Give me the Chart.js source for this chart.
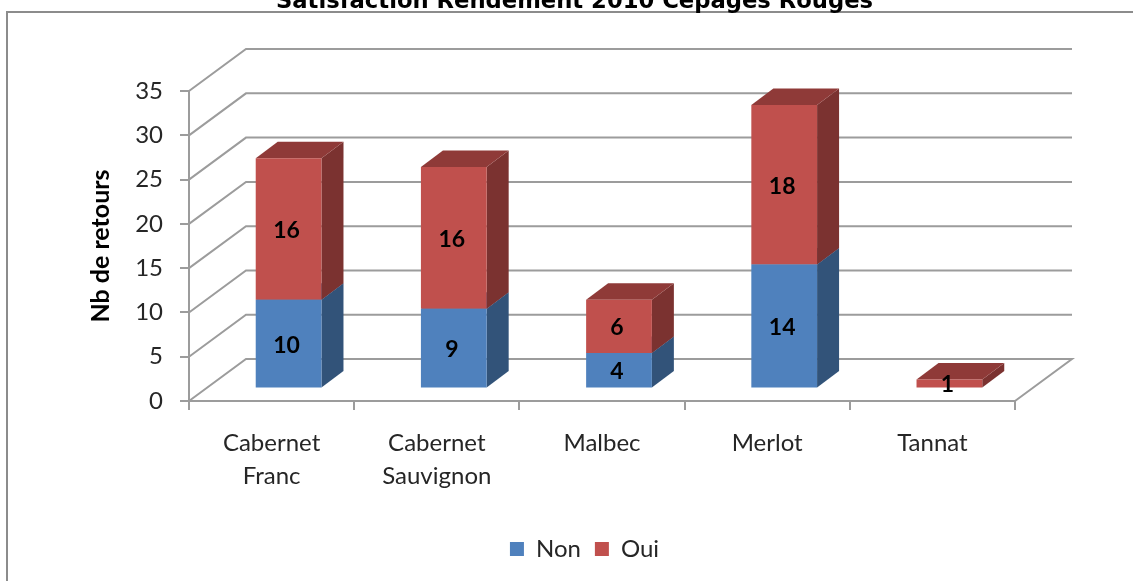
<!DOCTYPE html>
<html>
<head>
<meta charset="utf-8">
<title>Satisfaction Rendement 2010</title>
<script src="https://cdn.jsdelivr.net/npm/chart.js@4/dist/chart.umd.min.js"></script>
<style>
    html, body { margin: 0; padding: 0; background: #fff; overflow: hidden; }
    canvas { display: block; filter: blur(0.5px); }
</style>
</head>
<body>
<canvas id="chart" width="1133" height="581"></canvas>
<script>
const categories = [['Cabernet', 'Franc'], ['Cabernet', 'Sauvignon'], 'Malbec', 'Merlot', 'Tannat'];
const nonValues = [10, 9, 4, 14, 0];
const ouiValues = [16, 16, 6, 18, 1];

const FONT = 'Lato, "Open Sans", sans-serif';
const GRID_COLOR = '#9c9c9c';

// depth of the back wall, of the bars and offset of the bars from the front plane
const WALL_DX = 57, WALL_DY = -42;
const BAR_DX = 17, BAR_DY = -12.6;
const FACE_DX = 22, FACE_DY = -16.5;

const faceColors = [
    { side: '#325379', top: '#3b6190' },
    { side: '#7b3230', top: '#8f3a38' }
];

function polygon(ctx, color, points) {
    ctx.fillStyle = color;
    ctx.beginPath();
    points.forEach(([x, y], i) => i ? ctx.lineTo(x, y) : ctx.moveTo(x, y));
    ctx.closePath();
    ctx.fill();
}

const fakeThreeD = {
    id: 'fakeThreeD',
    beforeDraw(chart) {
        // frame, open on the right and the bottom
        const ctx = chart.ctx;
        ctx.save();
        ctx.strokeStyle = '#8c8c8c';
        ctx.lineWidth = 2;
        ctx.beginPath();
        ctx.moveTo(7, 581);
        ctx.lineTo(7, 12);
        ctx.lineTo(1133, 12);
        ctx.stroke();
        ctx.restore();
    },
    afterLayout(chart) {
        chart.titleBlock.left += 67;
        chart.titleBlock.right += 67;
        chart.legend.left += 77;
        chart.legend.right += 77;
        chart.legend.top = 547 - chart.legend.height / 2;
        chart.legend.bottom = chart.legend.top + chart.legend.height;
    },
    beforeDatasetsDraw(chart) {
        const ctx = chart.ctx;
        const { left, right } = chart.chartArea;
        const y = chart.scales.y;
        ctx.save();
        ctx.strokeStyle = GRID_COLOR;
        ctx.lineWidth = 2;
        y.ticks.forEach(tick => {
            const py = y.getPixelForValue(tick.value);
            ctx.beginPath();
            ctx.moveTo(left, py);
            ctx.lineTo(left + WALL_DX, py + WALL_DY);
            ctx.lineTo(right + WALL_DX, py + WALL_DY);
            if (tick.value === 0) {
                ctx.lineTo(right, py);
            }
            ctx.stroke();
        });
        // everything in the datasets sits a bit behind the front plane
        ctx.translate(BAR_DX, BAR_DY);
        chart.data.datasets.forEach((ds, d) => {
            chart.getDatasetMeta(d).data.forEach((bar, i) => {
                if (!ds.data[i]) {
                    return;
                }
                const p = bar.getProps(['x', 'y', 'base', 'width'], true);
                const x1 = p.x - p.width / 2, x2 = p.x + p.width / 2;
                polygon(ctx, faceColors[d].side, [
                    [x2, p.y], [x2 + FACE_DX, p.y + FACE_DY],
                    [x2 + FACE_DX, p.base + FACE_DY], [x2, p.base]
                ]);
                polygon(ctx, faceColors[d].top, [
                    [x1, p.y], [x1 + FACE_DX, p.y + FACE_DY],
                    [x2 + FACE_DX, p.y + FACE_DY], [x2, p.y]
                ]);
            });
        });
    },
    afterDatasetsDraw(chart) {
        const ctx = chart.ctx;
        ctx.restore();
        ctx.save();
        ctx.fillStyle = '#000';
        ctx.font = 'bold 23px ' + FONT;
        ctx.textAlign = 'center';
        ctx.textBaseline = 'middle';
        chart.data.datasets.forEach((ds, d) => {
            chart.getDatasetMeta(d).data.forEach((bar, i) => {
                if (!ds.data[i]) {
                    return;
                }
                const p = bar.getProps(['x', 'y', 'base'], true);
                ctx.fillText(ds.data[i], p.x + BAR_DX - 2, (p.y + p.base) / 2 + BAR_DY + 1.5);
            });
        });
        ctx.restore();
    }
};

new Chart(document.getElementById('chart'), {
    type: 'bar',
    plugins: [fakeThreeD],
    data: {
        labels: categories,
        datasets: [
            { label: 'Non', data: nonValues, backgroundColor: '#4f81bd' },
            { label: 'Oui', data: ouiValues, backgroundColor: '#c0504d' }
        ]
    },
    options: {
        responsive: false,
        animation: false,
        layout: { padding: { left: 0, right: 118, top: 0, bottom: 0 } },
        categoryPercentage: 1,
        barPercentage: 0.398,
        plugins: {
            tooltip: { enabled: false },
            title: {
                display: true,
                text: 'Satisfaction Rendement 2010 Cépages Rouges',
                color: '#000',
                font: { family: '"DejaVu Sans"', size: 22.7, weight: 'bold', lineHeight: 1.2 },
                padding: { top: -11.6, bottom: 75.4 }
            },
            legend: {
                position: 'bottom',
                labels: {
                    color: '#262626',
                    font: { family: FONT, size: 24 },
                    boxWidth: 14,
                    boxHeight: 14,
                    padding: 14
                }
            }
        },
        scales: {
            x: {
                stacked: true,
                afterFit(scale) {
                    scale.height = 180 - scale.chart.legend.height;
                },
                grid: {
                    offset: true,
                    drawOnChartArea: false,
                    color: GRID_COLOR,
                    lineWidth: 2,
                    tickLength: 9
                },
                border: { color: GRID_COLOR, width: 2 },
                ticks: {
                    color: '#262626',
                    font: { family: FONT, size: 24, lineHeight: 1.36 },
                    padding: 17,
                    maxRotation: 0,
                    autoSkip: false
                }
            },
            y: {
                stacked: true,
                min: 0,
                max: 35,
                afterFit(scale) {
                    scale.width = 189;
                },
                grid: {
                    drawOnChartArea: false,
                    color: GRID_COLOR,
                    lineWidth: 2,
                    tickLength: 9
                },
                border: { color: GRID_COLOR, width: 2 },
                ticks: {
                    stepSize: 5,
                    color: '#262626',
                    font: { family: FONT, size: 24 },
                    padding: 17
                },
                title: {
                    display: true,
                    text: 'Nb de retours',
                    color: '#000',
                    font: { family: FONT, size: 25, weight: 'bold', lineHeight: 1.2 },
                    padding: { top: 86, bottom: 0 }
                }
            }
        }
    }
});
</script>
</body>
</html>
